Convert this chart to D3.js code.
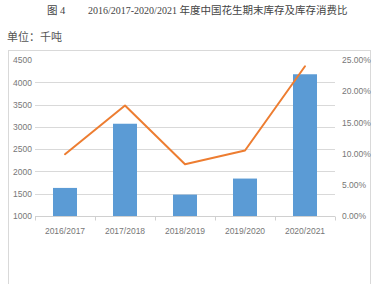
<!DOCTYPE html>
<html>
<head>
<meta charset="utf-8">
<script src="https://cdn.jsdelivr.net/npm/d3@7"></script>
<style>
  body { margin: 0; background: #fff; }
  svg { display: block; }
</style>
</head>
<body>
<div id="chart"></div>
<script>
// data
const seasons = ["2016/2017", "2017/2018", "2018/2019", "2019/2020", "2020/2021"];
const endStocks = [1630, 3070, 1480, 1840, 4180];          // 千吨
const stockUseRatio = [0.099, 0.177, 0.083, 0.105, 0.240];  // 库存消费比
const leftTicks = [1000, 1500, 2000, 2500, 3000, 3500, 4000, 4500];
const rightTicks = [0, 0.05, 0.10, 0.15, 0.20, 0.25];

const width = 381, height = 284;
const plot = {left: 35, right: 335, top: 60, bottom: 216};

const svg = d3.select("#chart").append("svg")
    .attr("width", width)
    .attr("height", height)
    .attr("font-family", "'Liberation Sans', Arial, sans-serif");

// titles
svg.append("text")
    .attr("x", 47).attr("y", 14)
    .attr("font-family", "'Liberation Serif', 'Noto Sans CJK SC', serif")
    .attr("font-size", 10.5)
    .attr("fill", "#444")
    .text("图 4");

const title = svg.append("text")
    .attr("x", 88).attr("y", 14)
    .attr("font-family", "'Liberation Serif', 'Noto Sans CJK SC', serif")
    .attr("fill", "#444");
title.append("tspan").attr("font-size", 10).text("2016/2017-2020/2021 ");
title.append("tspan").attr("font-size", 10.5).text("年度中国花生期末库存及库存消费比");

svg.append("text")
    .attr("x", 7).attr("y", 41)
    .attr("font-family", "'Noto Sans CJK SC', sans-serif")
    .attr("font-size", 11)
    .attr("fill", "#555")
    .text("单位：千吨");

// chart frame
svg.append("rect")
    .attr("x", 8.5).attr("y", 50.5)
    .attr("width", 362).attr("height", 250)
    .attr("fill", "none")
    .attr("stroke", "#d9d9d9");

// scales
const x = d3.scaleBand().domain(seasons).range([plot.left, plot.right]).padding(0);
const y = d3.scaleLinear().domain([1000, 4500]).range([plot.bottom, plot.top]);
const y2 = d3.scaleLinear().domain([0, 0.25]).range([plot.bottom, plot.top]);

// gridlines
svg.append("g")
    .selectAll("line")
    .data(leftTicks.filter(d => d > 1000 && d < 4500))
    .join("line")
    .attr("x1", plot.left).attr("x2", plot.right)
    .attr("y1", d => Math.round(y(d)) + 0.5)
    .attr("y2", d => Math.round(y(d)) + 0.5)
    .attr("stroke", "#d9d9d9");

// left axis
const gl = svg.append("g")
    .attr("transform", `translate(${plot.left - 3},0)`)
    .call(d3.axisLeft(y).tickValues(leftTicks).tickSize(0).tickPadding(0).tickFormat(d3.format("d")));
gl.select(".domain").remove();
gl.selectAll("text").attr("fill", "#777").attr("font-size", 8.5);

// right axis
const gr = svg.append("g")
    .attr("transform", `translate(${plot.right + 7},0)`)
    .call(d3.axisRight(y2).tickValues(rightTicks).tickSize(0).tickPadding(0).tickFormat(d3.format(".2%")));
gr.select(".domain").remove();
gr.selectAll("text").attr("fill", "#777").attr("font-size", 8.5);

// bars
const barW = x.bandwidth() * 0.4;
svg.append("g")
    .selectAll("rect")
    .data(seasons)
    .join("rect")
    .attr("x", (d) => x(d) + (x.bandwidth() - barW) / 2)
    .attr("y", (d, i) => y(endStocks[i]))
    .attr("width", barW)
    .attr("height", (d, i) => y(1000) - y(endStocks[i]))
    .attr("fill", "#5b9bd5");

// bottom axis
const gb = svg.append("g")
    .attr("transform", `translate(0,${Math.round(plot.bottom) + 0.5})`);
gb.append("line")
    .attr("x1", plot.left).attr("x2", plot.right)
    .attr("stroke", "#d0d0d0");
gb.selectAll(".bt")
    .data(seasons.map(d => x(d)).concat([x.range()[1]]))
    .join("line")
    .attr("class", "bt")
    .attr("x1", d => Math.round(d) + 0.5).attr("x2", d => Math.round(d) + 0.5)
    .attr("y1", 0).attr("y2", 4)
    .attr("stroke", "#d0d0d0");
gb.selectAll(".cl")
    .data(seasons)
    .join("text")
    .attr("class", "cl")
    .attr("x", d => x(d) + x.bandwidth() / 2)
    .attr("y", 17)
    .attr("text-anchor", "middle")
    .attr("font-size", 8.5)
    .attr("fill", "#777")
    .text(d => d);

// ratio line
const line = d3.line()
    .x((d, i) => x(seasons[i]) + x.bandwidth() / 2)
    .y(d => y2(d));

svg.append("path")
    .datum(stockUseRatio)
    .attr("d", line)
    .attr("fill", "none")
    .attr("stroke", "#ed7d31")
    .attr("stroke-width", 2)
    .attr("stroke-linejoin", "round")
    .attr("stroke-linecap", "round");
</script>
</body>
</html>
